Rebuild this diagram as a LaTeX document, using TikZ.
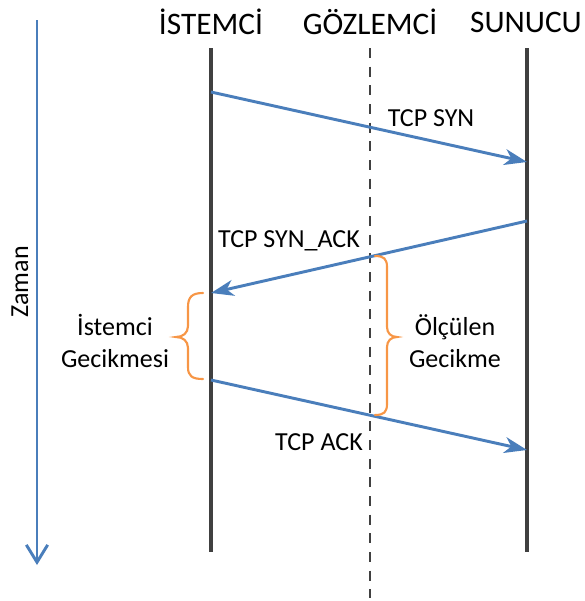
\documentclass[tikz,border=0pt]{standalone}
\usepackage{fontspec}
\setmainfont{Carlito}
\usetikzlibrary{arrows.meta}
\definecolor{lifeline}{HTML}{404040}
\definecolor{msgblue}{HTML}{4A7EBB}
\definecolor{braceorange}{HTML}{F79646}
\tikzset{
  head/.style={font=\fontsize{23.5}{28}\selectfont, inner sep=0pt},
  lbl/.style={font=\fontsize{19.5}{23.5}\selectfont, inner sep=0pt, align=center},
  life/.style={draw=lifeline, line width=2.3pt},
  obsline/.style={draw=lifeline, line width=2pt, dash pattern=on 7.5pt off 6.5pt},
  msg/.style={draw=msgblue, line width=2.2pt, -{Stealth[length=17pt,width=12pt,inset=5pt]}},
  timeaxis/.style={draw=msgblue, line width=2.2pt, -{Straight Barb[length=13pt,width=16pt]}},
  bracestyle/.style={draw=braceorange, line width=1.6pt, line cap=round}
}
\begin{document}
\begin{tikzpicture}[x=0.75pt, y=-0.75pt]
\useasboundingbox (0,0) rectangle (585,601);

% column headings
\node[head] (hc) at (211,22) {İSTEMCİ};
\node[head] (ho) at (370,22) {GÖZLEMCİ};
\node[head] (hs) at (526,22) {SUNUCU};

% lifelines
\coordinate (ct) at (211,48);  \coordinate (cb) at (211,552);
\coordinate (ot) at (370,48);  \coordinate (ob) at (370,598);
\coordinate (st) at (527,48);  \coordinate (sb) at (527,552);
\draw[life] (ct) -- (cb);
\draw[obsline] (ot) -- (ob);
\draw[life] (st) -- (sb);

% time axis
\coordinate (t0) at (37,20);
\coordinate (t1) at (37,565);
\draw[timeaxis] (t0) -- (t1);
\node[lbl, rotate=90] (zaman) at (20,282) {Zaman};

% messages
\coordinate (syn0) at (211,92);   \coordinate (syn1) at (527,162);
\coordinate (sa0) at (527,221);   \coordinate (sa1) at (211,293);
\coordinate (ack0) at (211,380);  \coordinate (ack1) at (527,450);
\draw[msg] (syn0) -- (syn1);
\draw[msg] (sa0) -- (sa1);
\draw[msg] (ack0) -- (ack1);
\node[lbl] (lsyn) at (431,118) {TCP SYN};
\node[lbl] (lsa) at (289,241) {TCP SYN\_ACK};
\node[lbl] (lack) at (319,442) {TCP ACK};

% client delay brace
\draw[bracestyle] (203,293) .. controls (192,293) and (188,297) .. (188,307)
  -- (188,326) .. controls (188,333) and (183,337) .. (176,337)
  .. controls (183,337) and (188,341) .. (188,348)
  -- (188,367) .. controls (188,376) and (192,379) .. (203,379);
\node[lbl] (lclient) at (115,341) {İstemci\\Gecikmesi};

% measured delay brace
\draw[bracestyle] (375,256) .. controls (384,256) and (387,259) .. (387,267)
  -- (387,327) .. controls (387,333) and (391,337) .. (397,337)
  .. controls (391,337) and (387,341) .. (387,347)
  -- (387,404) .. controls (387,412) and (384,415) .. (375,415);
\node[lbl] (lmeas) at (455,341) {Ölçülen\\Gecikme};
\end{tikzpicture}
\end{document}
